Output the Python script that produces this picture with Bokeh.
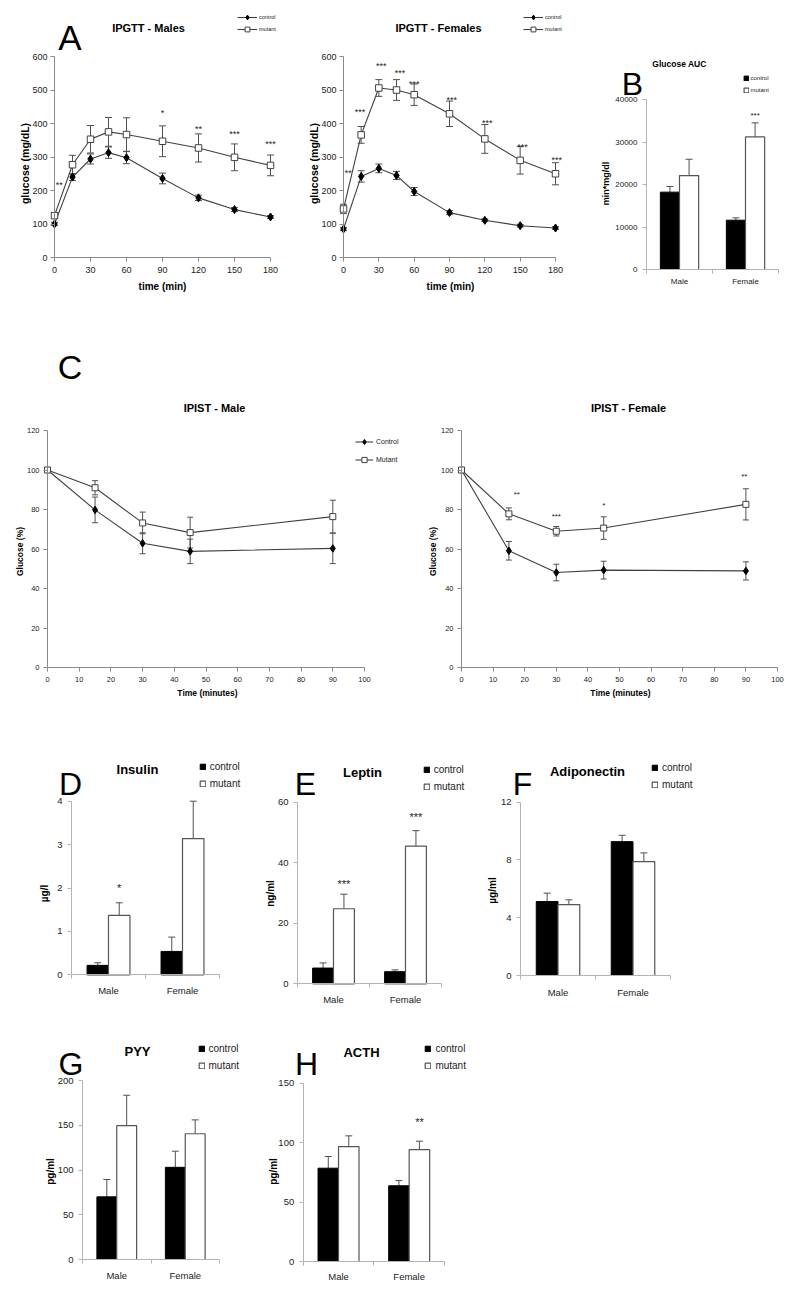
import math
from bokeh.plotting import figure
from bokeh.models import (ColumnDataSource, Whisker, TeeHead, Label, Legend, LegendItem,
                          FixedTicker, Range1d)
from bokeh.layouts import row, column
from bokeh.embed import file_html
from bokeh.resources import INLINE
from bokeh.core.properties import value

# ------------------------------------------------------------------ data
gtt_time = [0, 15, 30, 45, 60, 90, 120, 150, 180]
gtt_m_ctrl = [100, 240, 294, 313, 298, 236, 178, 143, 121]
gtt_m_ctrl_err = [5, 10, 15, 17, 18, 16, 8, 6, 4]
gtt_m_mut = [125, 277, 353, 375, 367, 347, 327, 299, 275]
gtt_m_mut_err = [8, 28, 41, 43, 50, 46, 42, 40, 31]
gtt_f_ctrl = [85, 242, 266, 245, 197, 134, 111, 95, 88]
gtt_f_ctrl_err = [5, 17, 13, 12, 12, 6, 4, 4, 4]
gtt_f_mut = [145, 366, 506, 500, 486, 429, 354, 290, 250]
gtt_f_mut_err = [14, 25, 25, 31, 32, 38, 43, 41, 33]
gtt_m_sig = ["**", "*", "**", "***", "***"]
gtt_m_sig_t = [4, 90, 120, 150, 180]
gtt_m_sig_y = [215, 432, 385, 368, 340]
gtt_f_sig = ["**", "***", "***", "***", "***", "***", "***", "***", "***"]
gtt_f_sig_t = [4, 14, 32, 48, 60, 92, 122, 152, 181]
gtt_f_sig_y = [253, 435, 572, 550, 519, 470, 401, 331, 291]

ist_time = [0, 15, 30, 45, 90]
ist_m_ctrl = [100, 79.8, 62.9, 58.8, 60.3]
ist_m_ctrl_err = [0, 6.5, 5.3, 6.2, 7.7]
ist_m_mut = [100, 91.0, 73.2, 68.3, 76.4]
ist_m_mut_err = [0, 3.6, 5.5, 7.8, 8.3]
ist_f_ctrl = [100, 59.1, 48.1, 49.3, 48.9]
ist_f_ctrl_err = [0, 4.7, 4.2, 4.5, 4.6]
ist_f_mut = [100, 77.8, 69.0, 70.6, 82.6]
ist_f_mut_err = [0, 3.0, 2.4, 5.7, 7.9]
ist_f_sig = ["**", "***", "*", "**"]
ist_f_sig_t = [17.5, 30, 45, 89.5]
ist_f_sig_y = [87.6, 76.6, 82.2, 96.9]

sexes = ["Male", "Female"]
auc_ctrl = [18200, 11600]
auc_ctrl_err = [1340, 560]
auc_mut = [22100, 31200]
auc_mut_err = [3840, 3300]
auc_sig = ["", "***"]
auc_sig_y = [0, 36300]

ins_ctrl = [0.22, 0.54]
ins_ctrl_err = [0.06, 0.33]
ins_mut = [1.37, 3.14]
ins_mut_err = [0.29, 0.86]
ins_sig = ["*", ""]
ins_sig_y = [2.0, 0]

lep_ctrl = [5.2, 4.0]
lep_ctrl_err = [1.7, 0.6]
lep_mut = [24.8, 45.5]
lep_mut_err = [4.8, 5.1]
lep_sig = ["***", "***"]
lep_sig_y = [33.1, 55.1]

adi_ctrl = [5.12, 9.27]
adi_ctrl_err = [0.58, 0.44]
adi_mut = [4.91, 7.89]
adi_mut_err = [0.33, 0.60]
adi_sig = ["", ""]
adi_sig_y = [0, 0]

pyy_ctrl = [70, 103]
pyy_ctrl_err = [19.4, 18]
pyy_mut = [149.5, 140.5]
pyy_mut_err = [34, 15.5]
pyy_sig = ["", ""]
pyy_sig_y = [0, 0]

acth_ctrl = [78.5, 63.7]
acth_ctrl_err = [9.8, 4.4]
acth_mut = [96.7, 94.2]
acth_mut_err = [9, 7]
acth_sig = ["", "**"]
acth_sig_y = [0, 117]

# ------------------------------------------------------------------ style / layout
FONT = "Liberation Sans"
INK = "#222222"
LINE = "#404040"
ERR = "#505050"

# key: (figure region in window px), (axis box in window px: left, top, right, bottom)
PANELS = {
    "A1": ((0, 0, 290, 308), (54, 56, 270, 257)),
    "A2": ((290, 0, 590, 308), (343, 56, 555, 257)),
    "B": ((590, 0, 793, 308), (646, 99, 778, 269)),
    "C1": ((0, 308, 400, 715), (47, 430, 364, 667)),
    "C2": ((400, 308, 793, 715), (461, 430, 777, 667)),
    "D": ((0, 715, 258, 1010), (71, 800.7, 219, 974.4)),
    "E": ((258, 715, 480, 1010), (297, 801.7, 441, 983.3)),
    "F": ((480, 715, 793, 1010), (520, 801.7, 670, 975)),
    "G": ((0, 1010, 262, 1293), (82, 1080, 219, 1259)),
    "H": ((262, 1010, 793, 1293), (302.7, 1082.7, 444, 1261)),
}


def make_fig(key, xlim, ylim):
    """Figure whose frame fills its whole region; the data limits xlim/ylim land on the
    axis box, and both axes float at the data minimum."""
    (x0, y0, x1, y1), (L, T, R, B) = PANELS[key]
    sx = (R - L) / (xlim[1] - xlim[0])
    sy = (B - T) / (ylim[1] - ylim[0])
    xr = (xlim[0] - (L - x0) / sx, xlim[1] + (x1 - R) / sx)
    yr = (ylim[0] - (y1 - B) / sy, ylim[1] + (T - y0) / sy)
    p = figure(x_range=Range1d(*xr), y_range=Range1d(*yr),
               frame_width=x1 - x0, frame_height=y1 - y0,
               min_border_left=0, min_border_right=0, min_border_top=0, min_border_bottom=0,
               toolbar_location=None, tools="", output_backend="svg")
    p.outline_line_color = None
    p.xgrid.visible = False
    p.ygrid.visible = False
    p.background_fill_color = "white"
    p.border_fill_color = "white"
    p.xaxis[0].fixed_location = ylim[0]
    p.yaxis[0].fixed_location = xlim[0]
    p.xaxis[0].bounds = tuple(xlim)
    p.yaxis[0].bounds = tuple(ylim)
    return p


def txt(p, key, wx, wy, s, size, bold=False, align="center", baseline="middle",
        angle=0.0, color="black"):
    x0, y0, x1, y1 = PANELS[key][0]
    p.add_layout(Label(x=wx - x0, y=y1 - wy, x_units="screen", y_units="screen", text=s,
                       text_font=FONT, text_font_size=f"{size}px",
                       text_font_style="bold" if bold else "normal",
                       text_align=align, text_baseline=baseline, angle=angle,
                       text_color=color))


def add_legend(p, key, items, left, top, gw, gh, pitch, size, standoff):
    x0, y0, x1, y1 = PANELS[key][0]
    pitch = int(round(pitch))
    lg = Legend(items=[LegendItem(label=lab, renderers=rs) for lab, rs in items],
                location=(left - x0, y1 - (top + pitch * len(items))),
                glyph_width=int(round(gw)), glyph_height=int(round(gh)),
                label_height=pitch, label_width=5,
                spacing=0, padding=0, margin=0, label_standoff=int(round(standoff)),
                label_text_font=FONT, label_text_font_size=f"{size}px",
                label_text_color=INK, border_line_color=None,
                background_fill_alpha=0)
    p.add_layout(lg)


def style_axis(ax, color, size, standoff):
    ax.axis_line_color = color
    ax.major_tick_line_color = color
    ax.minor_tick_line_color = None
    ax.major_tick_in = 0
    ax.major_tick_out = 4
    ax.major_label_standoff = standoff
    ax.major_label_text_font = FONT
    ax.major_label_text_font_size = f"{size}px"
    ax.major_label_text_color = INK


def whiskers(p, xs, ys, errs, head, both=True):
    src = ColumnDataSource(dict(x=xs, lo=[y - e if both else y for y, e in zip(ys, errs)],
                                hi=[y + e for y, e in zip(ys, errs)]))
    p.add_layout(Whisker(source=src, base="x", lower="lo", upper="hi",
                         line_color=ERR, line_width=1,
                         upper_head=TeeHead(size=head, line_color=ERR, line_width=1),
                         lower_head=TeeHead(size=head, line_color=ERR, line_width=1) if both else None))


def sig_text(p, xs, ys, labels, size):
    keep = [(x, y, s) for x, y, s in zip(xs, ys, labels) if s]
    if keep:
        p.text(x=[k[0] for k in keep], y=[k[1] for k in keep], text=[k[2] for k in keep],
               text_font=value(FONT), text_font_size=f"{size}px", text_align="center",
               text_baseline="middle", text_color=INK)


def line_panel(key, t, xmax, ymax, xticks, yticks, ctrl, ctrl_err, mut, mut_err,
               tick_size, head, msq, mdia, xstand, ystand):
    p = make_fig(key, (0, xmax), (0, ymax))
    style_axis(p.xaxis[0], "#8a8a8a", tick_size, xstand)
    style_axis(p.yaxis[0], "#8a8a8a", tick_size, ystand)
    p.xaxis[0].ticker = FixedTicker(ticks=xticks)
    p.yaxis[0].ticker = FixedTicker(ticks=yticks)
    whiskers(p, t, ctrl, ctrl_err, head)
    whiskers(p, t, mut, mut_err, head)
    lc = p.line(t, ctrl, line_color=LINE, line_width=1.1)
    sc = p.scatter(t, ctrl, marker="diamond", size=mdia, fill_color="black", line_color="black")
    lm = p.line(t, mut, line_color=LINE, line_width=1.1)
    sm = p.scatter(t, mut, marker="square", size=msq, fill_color="white", line_color=LINE,
                   line_width=1)
    return p, [lc, sc], [lm, sm]


def bar_panel(key, ymax, yticks, ctrl, ctrl_err, mut, mut_err, sig, sig_y, tick_size,
              xstand, sig_size):
    n = len(sexes)
    p = make_fig(key, (0.5, n + 0.5), (0, ymax))
    xs = [i + 1 for i in range(n)]
    style_axis(p.xaxis[0], "#b4b4b4", tick_size, xstand)
    style_axis(p.yaxis[0], "#b4b4b4", tick_size, 5)
    p.xaxis[0].ticker = FixedTicker(ticks=xs, minor_ticks=[x - 0.5 for x in xs] + [n + 0.5])
    p.xaxis[0].major_tick_out = 0
    p.xaxis[0].minor_tick_line_color = "#b4b4b4"
    p.xaxis[0].minor_tick_in = 0
    p.xaxis[0].minor_tick_out = 4
    p.xaxis[0].major_label_overrides = {x: s for x, s in zip(xs, sexes)}
    p.yaxis[0].ticker = FixedTicker(ticks=yticks)
    xc = [x - 0.145 for x in xs]
    xm = [x + 0.145 for x in xs]
    whiskers(p, xc, ctrl, ctrl_err, 7, both=False)
    whiskers(p, xm, mut, mut_err, 7, both=False)
    rc = p.vbar(x=xc, top=ctrl, width=0.29, fill_color="black", line_color="black")
    rm = p.vbar(x=xm, top=mut, width=0.29, fill_color="white", line_color="#555555",
                line_width=1.2)
    sig_text(p, xm, sig_y, sig, sig_size)
    return p, rc, rm


# ------------------------------------------------------------------ A: IPGTT
pA1, cA1, mA1 = line_panel("A1", gtt_time, 180, 600, list(range(0, 181, 30)),
                           list(range(0, 601, 100)), gtt_m_ctrl, gtt_m_ctrl_err,
                           gtt_m_mut, gtt_m_mut_err, 9, 7, 6.5, 8, 5, 3)
sig_text(pA1, gtt_m_sig_t, gtt_m_sig_y, gtt_m_sig, 9)
txt(pA1, "A1", 69.5, 37, "A", 35, baseline="alphabetic")
txt(pA1, "A1", 148, 27, "IPGTT - Males", 11, bold=True)
txt(pA1, "A1", 24, 163, "glucose (mg/dL)", 10.5, bold=True, angle=math.pi / 2)
txt(pA1, "A1", 162, 286, "time (min)", 10, bold=True)
add_legend(pA1, "A1", [("control", cA1), ("mutant", mA1)], 237, 10.5, 20, 12, 12.3, 5.5, 1.5)

pA2, cA2, mA2 = line_panel("A2", gtt_time, 180, 600, list(range(0, 181, 30)),
                           list(range(0, 601, 100)), gtt_f_ctrl, gtt_f_ctrl_err,
                           gtt_f_mut, gtt_f_mut_err, 9, 7, 6.5, 8, 5, 3)
sig_text(pA2, gtt_f_sig_t, gtt_f_sig_y, gtt_f_sig, 9)
txt(pA2, "A2", 438, 27, "IPGTT - Females", 11, bold=True)
txt(pA2, "A2", 313, 163, "glucose (mg/dL)", 10.5, bold=True, angle=math.pi / 2)
txt(pA2, "A2", 450, 286, "time (min)", 10, bold=True)
add_legend(pA2, "A2", [("control", cA2), ("mutant", mA2)], 523, 10.5, 20, 12, 12.3, 5.5, 1.5)

# ------------------------------------------------------------------ B: AUC
pB, rcB, rmB = bar_panel("B", 40000, list(range(0, 40001, 10000)), auc_ctrl, auc_ctrl_err,
                         auc_mut, auc_mut_err, auc_sig, auc_sig_y, 8, 3, 8)
txt(pB, "B", 632, 83, "B", 32, baseline="alphabetic")
txt(pB, "B", 679, 63, "Glucose AUC", 8.5, bold=True)
txt(pB, "B", 605, 183, "min*mg/dl", 9, bold=True, angle=math.pi / 2)
add_legend(pB, "B", [("control", [rcB]), ("mutant", [rmB])], 742.5, 71.5, 5.5, 5.5, 11.7, 6, 1.5)

# ------------------------------------------------------------------ C: IPIST
pC1, cC1, mC1 = line_panel("C1", ist_time, 100, 120, list(range(0, 101, 10)),
                           list(range(0, 121, 20)), ist_m_ctrl, ist_m_ctrl_err,
                           ist_m_mut, ist_m_mut_err, 7.5, 6, 6, 7.5, 5, 4)
txt(pC1, "C1", 69.5, 366.5, "C", 34, baseline="alphabetic")
txt(pC1, "C1", 214, 407, "IPIST - Male", 11, bold=True)
txt(pC1, "C1", 19, 551, "Glucose (%)", 8.5, bold=True, angle=math.pi / 2)
txt(pC1, "C1", 207, 692, "Time (minutes)", 8.5, bold=True)
add_legend(pC1, "C1", [("Control", cC1), ("Mutant", mC1)], 355, 432.5, 18, 13, 18.3, 7, 3)

pC2, cC2, mC2 = line_panel("C2", ist_time, 100, 120, list(range(0, 101, 10)),
                           list(range(0, 121, 20)), ist_f_ctrl, ist_f_ctrl_err,
                           ist_f_mut, ist_f_mut_err, 7.5, 6, 6, 7.5, 5, 4)
sig_text(pC2, ist_f_sig_t, ist_f_sig_y, ist_f_sig, 8)
txt(pC2, "C2", 628, 407, "IPIST - Female", 11, bold=True)
txt(pC2, "C2", 432, 551, "Glucose (%)", 8.5, bold=True, angle=math.pi / 2)
txt(pC2, "C2", 620, 692, "Time (minutes)", 8.5, bold=True)


# ------------------------------------------------------------------ D-H: hormones
def hormone(key, letter, lpos, title, tpos, ylab, ypos, leg_left, leg_top, pitch, **kw):
    p, rc, rm = bar_panel(key, **kw)
    txt(p, key, lpos[0], lpos[1], letter, 32, baseline="alphabetic")
    txt(p, key, tpos[0], tpos[1], title, 13, bold=True)
    txt(p, key, ypos[0], ypos[1], ylab, 10, bold=True, angle=math.pi / 2)
    add_legend(p, key, [("control", [rc]), ("mutant", [rm])], leg_left, leg_top, 6.6, 6.6,
               pitch, 10, 4)
    return p


pD = hormone("D", "D", (70, 783), "Insulin", (137, 769), "µg/l", (44, 893), 198.7, 757.6, 16.7,
             ymax=4, yticks=[0, 1, 2, 3, 4], ctrl=ins_ctrl, ctrl_err=ins_ctrl_err, mut=ins_mut,
             mut_err=ins_mut_err, sig=ins_sig, sig_y=ins_sig_y, tick_size=9.5, xstand=6,
             sig_size=11)
pE = hormone("E", "E", (305, 783), "Leptin", (362, 772), "ng/ml", (270, 893), 422.7, 760.6, 16.7,
             ymax=60, yticks=[0, 20, 40, 60], ctrl=lep_ctrl, ctrl_err=lep_ctrl_err, mut=lep_mut,
             mut_err=lep_mut_err, sig=lep_sig, sig_y=lep_sig_y, tick_size=9.5, xstand=6,
             sig_size=11)
pF = hormone("F", "F", (522, 783), "Adiponectin", (587, 771), "µg/ml", (492, 890), 651, 759.4,
             16.7, ymax=12, yticks=[0, 4, 8, 12], ctrl=adi_ctrl, ctrl_err=adi_ctrl_err,
             mut=adi_mut, mut_err=adi_mut_err, sig=adi_sig, sig_y=adi_sig_y, tick_size=9.5,
             xstand=7, sig_size=11)
pG = hormone("G", "G", (70.5, 1063), "PYY", (137, 1051), "pg/ml", (50, 1171), 197.5, 1040, 16.7,
             ymax=200, yticks=[0, 50, 100, 150, 200], ctrl=pyy_ctrl, ctrl_err=pyy_ctrl_err,
             mut=pyy_mut, mut_err=pyy_mut_err, sig=pyy_sig, sig_y=pyy_sig_y, tick_size=9.5,
             xstand=6, sig_size=11)
pH = hormone("H", "H", (306, 1063), "ACTH", (361, 1052), "pg/ml", (273, 1171), 424.4, 1040, 16.9,
             ymax=150, yticks=[0, 50, 100, 150], ctrl=acth_ctrl, ctrl_err=acth_ctrl_err,
             mut=acth_mut, mut_err=acth_mut_err, sig=acth_sig, sig_y=acth_sig_y, tick_size=9.5,
             xstand=5, sig_size=11)

layout = column(row(pA1, pA2, pB), row(pC1, pC2), row(pD, pE, pF), row(pG, pH))
open("out.html", "w").write(file_html(layout, INLINE))
